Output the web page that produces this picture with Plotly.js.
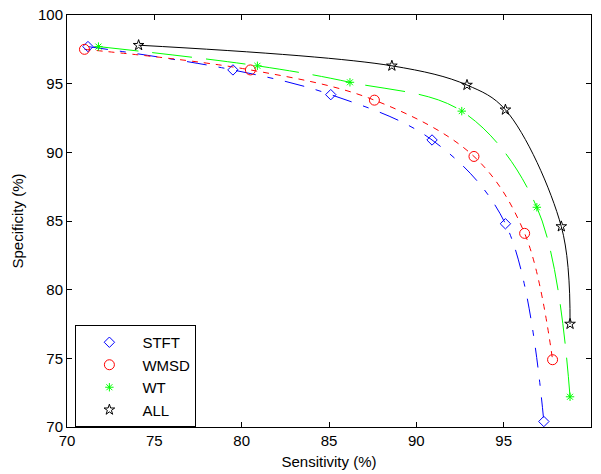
<!DOCTYPE html>
<html>
<head>
<meta charset="utf-8">
<script src="https://cdn.plot.ly/plotly-3.0.1.min.js"></script>
<style>html,body{margin:0;padding:0;background:#fff;}#chart{width:601px;height:474px;}</style>
</head>
<body>
<div id="chart"></div>
<script>
// Sensitivity (x) and Specificity (y) values, in %
const seriesNames = ["STFT", "WMSD", "WT", "ALL"];
const stftSens = [71.2, 79.5, 85.1, 90.9, 95.1, 97.3];
const stftSpec = [97.7, 96.0, 94.2, 90.9, 84.8, 70.4];
const wmsdSens = [71.0, 80.5, 87.6, 93.3, 96.2, 97.8];
const wmsdSpec = [97.5, 96.0, 93.8, 89.7, 84.1, 74.9];
const wtSens = [71.8, 80.9, 86.2, 92.6, 96.9, 98.8];
const wtSpec = [97.7, 96.3, 95.1, 93.0, 86.0, 72.2];
const allSens = [74.1, 88.6, 92.9, 95.1, 98.3, 98.8];
const allSpec = [97.8, 96.3, 94.9, 93.1, 84.6, 77.5];
const tickVals = [70, 75, 80, 85, 90, 95, 100];

const FONT = "Liberation Sans, Arial, sans-serif";
const styles = [
  {color: "#0000ff", dash: "20px,12px,6px,12px", symbol: "diamond-open", size: 8},
  {color: "#ff0000", dash: "6px,6px", symbol: "circle-open", size: 10},
  {color: "#00ff00", dash: "40px,14px", symbol: "asterisk-open", size: 7},
  {color: "#000000", dash: "solid", symbol: "star-open", size: 8}
];
const xs = [stftSens, wmsdSens, wtSens, allSens];
const ys = [stftSpec, wmsdSpec, wtSpec, allSpec];

const traces = [];
for (let i = 0; i < 4; i++) {
  traces.push({
    x: xs[i], y: ys[i], type: "scatter", mode: "lines",
    line: {color: styles[i].color, width: 1, dash: styles[i].dash, shape: "spline", smoothing: 1},
    showlegend: false, hoverinfo: "skip"
  });
}
for (let i = 0; i < 4; i++) {
  traces.push({
    x: xs[i], y: ys[i], type: "scatter", mode: "markers", name: seriesNames[i],
    legendgroup: "g" + i,
    marker: {symbol: styles[i].symbol, size: styles[i].size, color: styles[i].color,
             line: {color: styles[i].color, width: 1}},
    hoverinfo: "skip"
  });
}

const axisCommon = {
  range: [70, 100], tickvals: tickVals, ticktext: tickVals.map(String),
  ticks: "inside", ticklen: 5, tickwidth: 1, tickcolor: "#000",
  showline: true, linecolor: "#000", linewidth: 1, mirror: "ticks",
  showgrid: false, zeroline: false,
  tickfont: {family: FONT, size: 15, color: "#000"}
};

const layout = {
  width: 601, height: 474,
  margin: {l: 66.5, r: 9.5, t: 15, b: 47},
  paper_bgcolor: "#fff", plot_bgcolor: "#fff",
  font: {family: FONT, size: 15, color: "#000"},
  xaxis: Object.assign({}, axisCommon, {
    title: {text: "Sensitivity (%)", font: {family: FONT, size: 15, color: "#000"}, standoff: 8}
  }),
  yaxis: Object.assign({}, axisCommon, {
    title: {text: "Specificity (%)", font: {family: FONT, size: 15, color: "#000"}, standoff: 10}
  }),
  showlegend: true,
  legend: {
    x: 0.016, y: 0.2476, xanchor: "left", yanchor: "top",
    bgcolor: "#fff", bordercolor: "#000", borderwidth: 1,
    font: {family: FONT, size: 15, color: "#000"},
    traceorder: "grouped", tracegroupgap: 0, itemwidth: 56
  }
};

Plotly.newPlot("chart", traces, layout, {staticPlot: true, displayModeBar: false});
</script>
</body>
</html>
